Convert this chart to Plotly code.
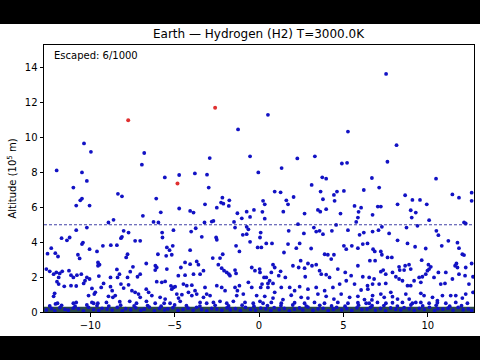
import plotly.graph_objects as go

# ---- data ----
title_text = "Earth — Hydrogen (H2) T=3000.0K"
escaped_label = "Escaped: 6/1000"
x_ticks = [-10, -5, 0, 5, 10]
y_ticks = [0, 2, 4, 6, 8, 10, 12, 14]
x_range = [-12.74, 12.74]
y_range = [0, 15.3]
escape_altitude = 5.0
surface_height = 0.3

# bound particles: upper region
upper_x = [-11.99, -10.37, -9.96, -10.49, -6.80, -6.94, -5.58, -4.73, -3.80, -3.08, -2.92, -1.24, -0.53, -0.04,
           7.53, 0.53, 5.27, 8.15, 7.61, 2.27, 3.31, 4.91, 5.22, 1.34, 3.75, 3.98, 6.69, 10.49,
           -2.98, -2.17, -8.36, -8.12, -6.09]
upper_y = [8.11, 9.66, 9.18, 8.00, 9.11, 8.44, 7.71, 7.85, 7.94, 7.87, 8.82, 10.46, 8.92, 8.00,
           13.64, 11.30, 10.34, 9.56, 8.61, 8.80, 8.92, 8.51, 8.55, 8.25, 7.72, 7.64, 7.68, 7.64,
           7.13, 6.55, 6.77, 6.63, 6.50]

# left block
left_x = [-10.20, -11.0, -10.49, -10.59, -10.83, -10.04, -8.62, -8.92, -6.88, -10.20, -10.83, -8.02, -7.73, -11.70,
          -11.38, -11.22, -10.43, -10.49, -8.12, -8.18, -7.34, -7.04, -9.25, -8.78, -8.42, -10.04, -12.31, -12.07,
          -11.91, -12.53, -10.73, -10.63, -9.60, -7.87, -7.79, -9.54, -9.45, -9.54, -7.47, -6.68, -12.60, -12.40,
          -12.17, -12.01, -11.81, -11.66, -11.26, -8.42, -8.27, -8.38, -11.14, -11.0, -11.87, -11.97, -11.87, -10.79,
          -10.53, -10.20, -10.04, -9.49, -8.80, -7.63, -7.79, -7.20, -7.04, -10.31, -10.39, -11.54, -11.14, -10.83,
          -9.21, -9.35, -8.80, -8.70, -8.18, -8.02, -9.90, -9.70, -12.11, -12.17, -10.10, -9.76, -7.73, -7.53,
          -7.34, -7.14, -7.04, -6.68, -6.54, -8.92, -8.66, -8.52, -11.0, -10.83, -12.06, -11.94, -9.80, -9.90,
          -9.04, -8.25, -7.66, -7.26, -6.67, -9.55]
left_y = [7.51, 7.13, 6.50, 6.40, 6.10, 6.10, 5.28, 5.13, 5.51, 4.84, 4.69, 4.65, 4.55, 4.23,
          4.11, 4.27, 3.98, 3.89, 4.31, 4.23, 4.08, 4.08, 3.79, 3.83, 3.83, 3.60, 3.66, 3.37,
          3.18, 3.34, 3.28, 3.07, 3.47, 3.13, 3.31, 2.84, 2.71, 2.65, 2.59, 2.78, 2.46, 2.33,
          2.17, 2.27, 2.21, 2.33, 2.37, 2.44, 2.17, 1.98, 2.11, 1.98, 1.98, 1.74, 1.60, 2.11,
          2.17, 1.98, 1.89, 2.06, 1.98, 2.31, 1.98, 2.02, 2.17, 1.79, 1.64, 1.47, 1.51, 1.49,
          1.64, 1.41, 1.45, 1.22, 1.60, 1.37, 1.35, 1.13, 1.07, 0.90, 0.94, 1.03, 1.56, 1.22,
          1.13, 1.03, 0.84, 1.31, 1.13, 0.90, 0.84, 0.94, 0.50, 0.55, 0.46, 0.50, 0.50, 0.55,
          0.55, 0.59, 0.61, 0.50, 0.61, 0.50]

# centre-left block
cleft_x = [-1.76, -2.25, -2.11, -1.79, -3.20, -4.73, -5.82, -4.08, -3.88, -2.50, -1.28, -0.73, -0.30, -1.02,
           -0.53, -6.25, -5.96, -3.23, -2.80, -2.70, -1.48, -5.07, -3.75, -4.02, -1.42, -0.73, -0.63, -5.74,
           -5.72, -3.39, -2.54, -2.50, -0.96, -0.73, -0.53, 0.06, -5.11, -5.46, -5.30, -1.36, -1.16, -5.99,
           -5.50, -5.17, -4.08, -2.74, -2.31, -2.15, -0.08, -6.14, -6.06, -6.15, -5.46, -4.38, -4.08, -3.69,
           -3.59, -4.63, -2.41, -2.21, -2.07, -1.91, -1.78, -1.72, -1.42, -1.36, -0.43, -0.24, 0.06, -3.29,
           -4.78, -4.38, -3.88, -3.49, -6.06, -5.76, -5.56, -5.22, -5.07, -4.97, -5.17, -4.48, -4.28, -3.98,
           -3.79, -4.87, -4.77, -4.67, -4.18, -3.98, -3.69, -3.20, -3.10, -2.90, -2.50, -2.21, -2.01, -1.42,
           -1.28, -1.16, -0.63, -0.43, -6.35, -5.86, -5.56, -5.27, -5.62, -6.15, -3.49, -3.10, -2.70, -2.31,
           -1.91, -1.52, -0.83, -0.34, 0.06, -4.57, -3.29, -1.32, -0.93, -0.14]
cleft_y = [6.40, 6.27, 6.21, 6.08, 6.17, 5.93, 5.71, 5.79, 5.70, 5.98, 5.66, 5.75, 5.85, 5.37,
           5.45, 5.16, 5.13, 5.13, 5.18, 5.22, 5.16, 4.69, 4.80, 4.61, 4.84, 4.88, 4.74, 4.55,
           4.27, 4.31, 4.27, 4.14, 4.42, 4.46, 4.02, 4.27, 3.79, 3.70, 3.54, 3.79, 3.47, 3.31,
           3.22, 3.28, 3.54, 3.09, 3.09, 3.31, 3.70, 2.65, 2.55, 2.40, 2.46, 2.84, 2.74, 2.90,
           2.71, 2.55, 2.71, 2.51, 2.37, 2.27, 2.17, 2.08, 2.40, 2.21, 2.55, 2.37, 2.27, 2.37,
           2.08, 2.11, 2.17, 2.17, 1.74, 1.70, 1.75, 1.50, 1.41, 1.45, 1.31, 1.60, 1.51, 1.54,
           1.22, 1.03, 0.80, 0.61, 1.13, 0.94, 1.03, 1.41, 1.03, 0.94, 1.51, 1.41, 1.22, 1.41,
           1.22, 1.51, 1.70, 1.41, 0.94, 0.84, 0.74, 0.50, 0.50, 0.50, 0.55, 0.50, 0.55, 0.61,
           0.50, 0.61, 0.55, 0.50, 0.61, 0.99, 0.84, 0.94, 1.03, 0.94]

# centre-right block
cright_x = [3.12, 0.93, 1.28, 3.65, 4.62, 5.03, 4.44, 6.21, 0.24, 0.34, 0.20, 0.34, 1.62, 1.72, 2.05, 1.44,
            2.70, 3.49, 3.63, 3.98, 3.79, 4.48, 4.83, 5.66, 5.90, 6.05, 5.86, 5.76, 2.31, 1.76, 2.66, 3.25,
            3.39, 3.79, 3.59, 4.32, 4.57, 5.27, 5.96, 6.21, 0.10, 0.14, 0.43, 0.77, 1.48, 1.72, 2.41, 2.21,
            3.09, 3.89, 4.08, 4.28, 4.44, 5.03, 5.17, 5.50, 5.86, 6.15, 0.04, 0.30, 0.10, 0.18, 0.43, 0.83,
            0.93, 0.73, 0.63, 0.83, 0.53, 1.28, 1.17, 1.56, 2.01, 2.35, 2.47, 2.70, 2.74, 2.90, 3.14, 3.39,
            3.59, 3.69, 3.98, 4.18, 4.67, 5.11, 5.46, 5.86, 6.15, 0.53, 0.93, 1.32, 1.82, 2.11, 2.41, 2.90,
            3.39, 3.89, 4.38, 4.78, 5.17, 5.66, 6.05, 6.45, 0.34, 0.83, 1.42, 1.91, 2.50, 2.90, 3.49, 3.98,
            4.44, 4.87, 5.37, 5.86, 6.25, 0.24, 0.73, 1.32, 2.11, 2.70, 3.29, 3.88, 4.67, 5.27, 5.86, 6.35]
cright_y = [7.28, 6.90, 6.86, 6.90, 6.90, 6.94, 6.71, 6.99, 6.37, 6.17, 5.74, 5.35, 6.40, 6.17, 6.59, 5.75,
            5.64, 5.85, 5.75, 5.89, 6.46, 6.37, 5.64, 6.08, 5.74, 5.98, 5.41, 5.16, 5.03, 4.65, 4.50, 4.84,
            4.61, 4.46, 4.65, 4.65, 4.99, 4.69, 4.42, 4.55, 4.55, 3.70, 3.93, 3.93, 3.41, 3.89, 3.93, 3.66,
            3.64, 3.31, 3.28, 3.03, 3.28, 3.79, 3.60, 3.79, 3.66, 3.89, 2.46, 1.98, 1.41, 1.60, 1.98, 2.71,
            2.55, 2.27, 1.79, 1.64, 1.64, 2.33, 2.08, 1.98, 2.65, 2.55, 2.94, 2.51, 2.02, 2.78, 2.65, 2.71,
            2.37, 2.17, 2.14, 1.98, 2.46, 2.27, 2.08, 2.65, 2.02, 1.41, 1.13, 1.41, 1.41, 1.22, 1.45, 1.31,
            1.41, 1.22, 1.41, 1.60, 1.79, 1.60, 1.26, 1.31, 0.90, 0.80, 0.71, 0.96, 0.84, 0.80, 1.03, 0.90,
            0.74, 1.03, 0.84, 0.90, 0.71, 0.50, 0.55, 0.50, 0.53, 0.50, 0.55, 0.50, 0.55, 0.50, 0.53, 0.50]

# right block
right_x = [7.12, 8.66, 9.09, 9.54, 9.94, 8.99, 9.29, 9.05, 10.08, 11.46, 11.85, 12.60, 12.60, 7.04, 7.22,
           8.21, 6.73, 8.74, 9.39, 10.51, 10.63, 12.15, 12.25, 6.73, 7.08, 7.28, 6.43, 6.76, 6.86, 7.22,
           7.28, 7.62, 7.87, 7.71, 8.21, 8.80, 9.25, 9.88, 10.83, 11.22, 11.76, 11.85, 12.05, 12.15, 6.57,
           6.88, 7.36, 7.22, 7.51, 7.91, 8.30, 8.34, 8.66, 8.60, 8.89, 8.99, 9.64, 10.04, 10.18, 10.08,
           9.98, 10.63, 11.07, 11.62, 11.70, 11.76, 12.25, 12.60, 6.53, 6.82, 6.73, 6.43, 7.12, 7.51, 8.11,
           8.30, 8.50, 8.80, 8.99, 9.19, 9.49, 9.68, 9.59, 9.88, 10.37, 10.77, 11.02, 11.46, 11.85, 12.21,
           12.44, 12.68, 6.73, 6.69, 7.22, 7.42, 7.81, 7.91, 8.21, 8.70, 8.90, 9.29, 9.59, 9.78, 10.28,
           10.57, 10.87, 11.36, 11.66, 12.05, 12.25, 12.68, 6.53, 7.02, 7.52, 7.91, 8.50, 9.09, 9.59, 10.08,
           10.57, 11.07, 11.66, 12.35]
right_y = [7.13, 6.69, 6.42, 6.42, 6.17, 5.83, 5.70, 5.41, 5.26, 6.74, 6.55, 6.84, 6.37, 6.04, 6.04,
           6.17, 5.57, 4.84, 4.94, 4.65, 4.40, 5.13, 5.07, 4.61, 4.69, 4.88, 3.93, 3.60, 3.47, 3.47,
           3.28, 3.13, 3.13, 4.50, 4.11, 3.93, 3.74, 3.64, 3.79, 4.08, 3.97, 3.66, 3.31, 3.26, 2.94,
           2.94, 2.40, 2.31, 2.17, 2.27, 2.59, 2.40, 2.65, 2.40, 2.71, 2.46, 2.97, 2.71, 2.59, 2.46,
           2.37, 2.27, 2.27, 2.65, 2.78, 2.55, 2.55, 2.78, 1.98, 1.89, 1.60, 1.51, 1.60, 1.64, 2.02,
           1.89, 1.79, 1.51, 1.51, 1.79, 1.98, 2.02, 1.70, 2.17, 1.98, 1.60, 1.64, 1.89, 2.17, 2.08,
           1.60, 2.02, 0.94, 0.69, 1.03, 0.84, 1.13, 0.88, 0.74, 1.03, 0.74, 0.55, 1.07, 0.94, 0.84,
           0.65, 0.94, 0.94, 0.94, 0.80, 1.03, 1.13, 0.50, 0.55, 0.50, 0.53, 0.55, 0.50, 0.55, 0.50,
           0.53, 0.50, 0.55, 0.50]

# particles hugging the surface
ground_x = [-12.6, -12.3, -12.1, -11.8, -11.5, -11.3, -11.0, -10.7, -10.4, -10.1, -9.8, -9.5, -9.3, -9.0,
            -8.7, -8.4, -8.1, -7.9, -7.6, -7.3, -7.0, -6.8, -6.5, -6.2, -5.9, -5.6, -5.4, -5.1, -4.8, -4.5,
            -4.2, -3.9, -3.7, -3.4, -3.1, -2.8, -2.5, -2.2, -1.9, -1.7, -1.4, -1.1, -0.8, -0.5, -0.2, 0.1,
            0.4, 0.7, 0.9, 1.2, 1.5, 1.8, 2.1, 2.4, 2.6, 2.9, 3.2, 3.5, 3.8, 4.1, 4.4, 4.6, 4.9, 5.2, 5.5,
            5.8, 6.1, 6.4, 6.6, 6.9, 7.2, 7.5, 7.8, 8.1, 8.4, 8.6, 8.9, 9.2, 9.5, 9.8, 10.1, 10.4, 10.6,
            10.9, 11.2, 11.5, 11.8, 12.1, 12.4, 12.6,
            -12.4, -11.7, -10.9, -10.2, -9.6, -8.9, -8.2, -7.4, -6.6, -5.8, -5.0, -4.3, -3.5, -2.6, -1.8,
            -1.0, -0.3, 0.5, 1.3, 2.0, 2.8, 3.6, 4.3, 5.1, 5.9, 6.7, 7.4, 8.2, 9.0, 9.7, 10.5, 11.3, 12.0]
ground_y = [0.12, 0.20, 0.08, 0.25, 0.15, 0.10, 0.22, 0.18, 0.06, 0.27, 0.14, 0.09, 0.21, 0.17, 0.11, 0.26,
            0.07, 0.19, 0.13, 0.24, 0.10, 0.16, 0.28, 0.08, 0.21, 0.12, 0.18, 0.25, 0.09, 0.15, 0.22, 0.11,
            0.27, 0.14, 0.07, 0.20, 0.17, 0.10, 0.24, 0.13, 0.19, 0.08, 0.26, 0.15, 0.11, 0.22, 0.18, 0.09,
            0.25, 0.14, 0.20, 0.07, 0.16, 0.23, 0.12, 0.28, 0.10, 0.18, 0.21, 0.08, 0.15, 0.26, 0.12, 0.19,
            0.09, 0.24, 0.14, 0.17, 0.27, 0.11, 0.20, 0.08, 0.23, 0.15, 0.12, 0.25, 0.18, 0.10, 0.21, 0.14,
            0.27, 0.09, 0.19, 0.16, 0.22, 0.11, 0.26, 0.13, 0.18, 0.08,
            0.35, 0.38, 0.33, 0.40, 0.36, 0.34, 0.39, 0.35, 0.37, 0.33, 0.40, 0.36, 0.34, 0.38, 0.35, 0.39,
            0.33, 0.37, 0.36, 0.40, 0.34, 0.38, 0.35, 0.33, 0.39, 0.36, 0.37, 0.34, 0.40, 0.35, 0.38, 0.33,
            0.36]

# escaped particles
esc_x = [-7.75, -2.60, -4.83]
esc_y = [10.99, 11.70, 7.37]

all_x = upper_x + left_x + cleft_x + cright_x + right_x + ground_x
all_y = upper_y + left_y + cleft_y + cright_y + right_y + ground_y

FONT = "DejaVu Sans"
fig = go.Figure()

fig.add_trace(go.Scatter(x=all_x, y=all_y, mode="markers",
                         marker=dict(size=3.8, color="#1212c4", line=dict(width=0)),
                         showlegend=False, hoverinfo="skip"))
fig.add_trace(go.Scatter(x=esc_x, y=esc_y, mode="markers",
                         marker=dict(size=4, color="#e03030", line=dict(width=0)),
                         showlegend=False, hoverinfo="skip"))

# surface band
fig.add_shape(type="rect", xref="paper", yref="y", x0=0, x1=1, y0=0, y1=surface_height,
              fillcolor="#2a4a48", line=dict(width=0), layer="below")
# escape altitude
fig.add_shape(type="line", xref="paper", yref="y", x0=0, x1=1, y0=escape_altitude, y1=escape_altitude,
              line=dict(color="rgba(30,30,150,0.85)", width=1, dash="3px,2px"))
# letterbox bars
fig.add_shape(type="rect", xref="paper", yref="paper", x0=-0.2, x1=1.2, y0=1.079, y1=1.3,
              fillcolor="black", line=dict(width=0), layer="above")
fig.add_shape(type="rect", xref="paper", yref="paper", x0=-0.2, x1=1.2, y0=-0.09, y1=-0.3,
              fillcolor="black", line=dict(width=0), layer="above")

fig.add_annotation(x=0.019, y=0.962, xref="paper", yref="paper", text=escaped_label, showarrow=False,
                   xanchor="left", yanchor="middle", font=dict(family=FONT, size=10, color="black"))

fig.update_layout(
    width=480, height=360,
    margin=dict(l=44, r=6, t=45, b=48),
    paper_bgcolor="white", plot_bgcolor="white",
    title=dict(text=title_text, x=0.5386, xanchor="center", y=1 - 34 / 360, yanchor="middle",
               font=dict(family=FONT, size=12, color="black")),
    font=dict(family=FONT, size=10, color="black"),
)
fig.update_xaxes(range=x_range, tickvals=x_ticks, ticktext=["−10", "−5", "0", "5", "10"],
                 showgrid=False, zeroline=False, showline=True, linecolor="black", linewidth=1, mirror=True,
                 ticks="outside", ticklen=3.5, tickwidth=1, tickcolor="black",
                 tickfont=dict(family=FONT, size=10))
fig.update_yaxes(range=y_range, tickvals=y_ticks,
                 showgrid=False, zeroline=False, showline=True, linecolor="black", linewidth=1, mirror=True,
                 ticks="outside", ticklen=3.5, tickwidth=1, tickcolor="black",
                 tickfont=dict(family=FONT, size=10),
                 title=dict(text="Altitude (10<sup>5</sup> m)", font=dict(family=FONT, size=10), standoff=6))

fig.write_html("out.html")
